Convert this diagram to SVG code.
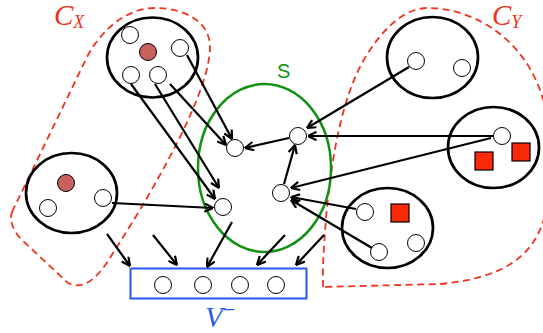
<svg xmlns="http://www.w3.org/2000/svg" width="543" height="333" viewBox="0 0 543 333">
<defs>
<style>
.grp{fill:none;stroke:#000;stroke-width:2.7}
.n{fill:#fff;stroke:#000;stroke-width:1}
.rn{fill:#c8605c;stroke:#000;stroke-width:1}
.sq{fill:#f92a05;stroke:#000;stroke-width:1.2}
.dash{fill:none;stroke:#f0321e;stroke-width:1.8;stroke-dasharray:7 4.5}
.e{fill:none;stroke:#000;stroke-width:2.2;marker-end:url(#ah)}
.lbl{font-family:"Liberation Serif",serif;font-style:italic}
</style>
<marker id="ah" markerUnits="userSpaceOnUse" viewBox="0 0 10 10" refX="9.5" refY="5" markerWidth="10" markerHeight="10" orient="auto">
<path d="M1,0.8 L9.5,5 L1,9.2" fill="none" stroke="#000" stroke-width="2.2"/>
</marker>
</defs>
<rect width="543" height="333" fill="#fff"/>
<g id="CX">
<path class="dash" d="M12,212 L88,55 C105,25 130,8 155,8 C185,8 210,22 210,47 C210,90 160,180 113,253 C100,275 85,292 68,283 L22,240 C14,232 9,222 12,212 Z"/>
<text class="lbl" x="54" y="25" font-size="29" fill="#f0321e">C<tspan font-size="18" dy="3">X</tspan></text>
</g>
<g id="CY">
<path class="dash" d="M323,287 L323,265 C326,200 335,100 370,50 C390,20 410,8 428,8 C470,8 520,35 540,90 L560,150 L545,215 C535,255 505,278 440,284 Z"/>
<text class="lbl" x="492" y="25" font-size="29" fill="#f0321e">C<tspan font-size="18" dy="3">Y</tspan></text>
</g>
<g id="S">
<ellipse cx="264.5" cy="168" rx="66.5" ry="84" fill="none" stroke="#139113" stroke-width="2.5"/>
<text x="277" y="78" font-family="Liberation Sans, sans-serif" font-size="20" fill="#139113">S</text>
</g>
<g id="cluster-tl">
<ellipse class="grp" cx="152.5" cy="57.5" rx="45.5" ry="40"/>
<circle class="n" cx="130" cy="35" r="8.5"/>
<circle class="rn" cx="148" cy="52" r="8.5"/>
<circle class="n" cx="180" cy="48" r="8.5"/>
<circle class="n" cx="131" cy="75" r="8.5"/>
<circle class="n" cx="158" cy="75" r="8.5"/>
</g>
<g id="cluster-ml">
<ellipse class="grp" cx="71.5" cy="193" rx="45.5" ry="40"/>
<circle class="rn" cx="66" cy="183" r="8.5"/>
<circle class="n" cx="48" cy="208" r="8.5"/>
<circle class="n" cx="103" cy="198" r="8.5"/>
</g>
<g id="cluster-tr">
<ellipse class="grp" cx="432.5" cy="57.5" rx="45.5" ry="40.5"/>
<circle class="n" cx="416" cy="61" r="8.5"/>
<circle class="n" cx="462" cy="68" r="8.5"/>
</g>
<g id="cluster-mr">
<ellipse class="grp" cx="493.5" cy="147.5" rx="45.5" ry="40.5"/>
<rect class="sq" x="475" y="152" width="18" height="18"/>
<rect class="sq" x="512" y="143" width="18" height="18"/>
<circle class="n" cx="502" cy="136" r="8.5"/>
</g>
<g id="cluster-br">
<ellipse class="grp" cx="387.5" cy="228" rx="45.5" ry="40"/>
<rect class="sq" x="391" y="204" width="18" height="18"/>
<circle class="n" cx="365" cy="212" r="8.5"/>
<circle class="n" cx="379" cy="252" r="8.5"/>
<circle class="n" cx="416" cy="243" r="8.5"/>
</g>
<g id="Vminus">
<rect x="130.5" y="268.5" width="176" height="30" fill="#fff" stroke="#2a57f5" stroke-width="2"/>
<circle class="n" cx="163" cy="285" r="8.5"/>
<circle class="n" cx="203" cy="285" r="8.5"/>
<circle class="n" cx="240" cy="285" r="8.5"/>
<circle class="n" cx="276" cy="285" r="8.5"/>
<text class="lbl" x="205" y="327" font-size="29" fill="#2a57f5">V<tspan font-size="22" dy="-10" font-style="normal">−</tspan></text>
</g>
<g id="connectors">
<line class="e" x1="187" y1="55" x2="232" y2="139"/>
<line class="e" x1="170" y1="84" x2="226" y2="145"/>
<line class="e" x1="131" y1="84" x2="215" y2="199"/>
<line class="e" x1="155" y1="84" x2="219" y2="188"/>
<line class="e" x1="112" y1="203" x2="213" y2="208"/>
<line class="e" x1="289" y1="138" x2="245" y2="148"/>
<line class="e" x1="284" y1="184" x2="295" y2="145"/>
<line class="e" x1="409" y1="67" x2="307" y2="128"/>
<line class="e" x1="493" y1="136" x2="308" y2="136"/>
<line class="e" x1="491" y1="138" x2="291" y2="188"/>
<line class="e" x1="356" y1="209" x2="291" y2="197"/>
<line class="e" x1="372" y1="248" x2="291" y2="200"/>
<line class="e" x1="107" y1="234" x2="130" y2="266"/>
<line class="e" x1="153" y1="235" x2="177" y2="265"/>
<line class="e" x1="232" y1="222" x2="207" y2="267"/>
<line class="e" x1="285" y1="235" x2="257" y2="265"/>
<line class="e" x1="324" y1="235" x2="296" y2="265"/>
</g>
<g id="S-nodes">
<circle class="n" cx="235" cy="148" r="8.5"/>
<circle class="n" cx="298" cy="136" r="8.5"/>
<circle class="n" cx="281" cy="193" r="8.5"/>
<circle class="n" cx="223" cy="207" r="8.5"/>
</g>
</svg>
